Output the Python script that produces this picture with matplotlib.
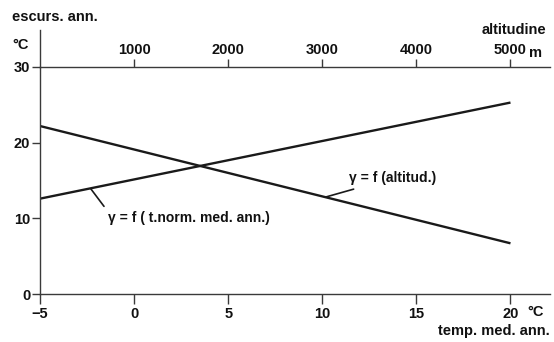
import numpy as np
import matplotlib.pyplot as plt

plt.rcParams['font.family'] = ['Liberation Sans', 'DejaVu Sans']
plt.rcParams['font.weight'] = 'bold'

# dati
temp_med = [-5, 20]              # °C
escurs_temp = [12.6, 25.3]       # y = f(t.norm. med. ann.)
altitudine = [0, 5000]           # m
escurs_alt = [22.2, 6.7]         # y = f(altitud.)

x_ticks = [-5, 0, 5, 10, 15, 20]
y_ticks = [0, 10, 20, 30]
alt_ticks = [1000, 2000, 3000, 4000, 5000]


def alt2temp(a):
    return -5 + np.asarray(a) / 200.0


def temp2alt(t):
    return (np.asarray(t) + 5) * 200.0


col = '#1a1a1a'
axcol = '#3a3a3a'
txt = '#111111'
fs = 10.5

fig = plt.figure(figsize=(5.54, 3.42), dpi=100)
ax = fig.add_axes([40 / 554, 48 / 342, 510 / 554, 227 / 342])

ax.plot(temp_med, escurs_temp, color=col, lw=1.7, solid_capstyle='butt')
ax.plot(alt2temp(altitudine), escurs_alt, color=col, lw=1.7, solid_capstyle='butt')

ax.set_xlim(-5, 22.1)
ax.set_ylim(0, 30)
ax.set_xticks(x_ticks)
ax.set_yticks(y_ticks)
ax.tick_params(axis='both', colors=axcol, labelcolor=txt, labelsize=fs,
               width=1.0, direction='out')
ax.tick_params(axis='y', length=6, pad=1)
ax.tick_params(axis='x', length=7, pad=2)
for s in ['left', 'bottom', 'top']:
    ax.spines[s].set_color(axcol)
    ax.spines[s].set_linewidth(1.0)
ax.spines['right'].set_visible(False)

# asse superiore: altitudine
sec = ax.secondary_xaxis('top', functions=(temp2alt, alt2temp))
sec.set_xticks(alt_ticks)
sec.tick_params(colors=axcol, labelcolor=txt, labelsize=fs, width=1.0,
                length=6, direction='out', pad=1)
sec.spines['top'].set_visible(False)

# prolungamento asse y sopra i 30
ax.plot([0, 0], [1, 1.165], transform=ax.transAxes, color=axcol, lw=1.0,
        clip_on=False)

# testi
fig.text(12 / 554, 1 - 17 / 342, 'escurs. ann.', fontsize=fs, va='center',
         ha='left', color=txt)
fig.text(12 / 554, 1 - 45 / 342, '°C', fontsize=fs, va='center', ha='left',
         color=txt)
fig.text(546 / 554, 1 - 30 / 342, 'altitudine', fontsize=fs, va='center',
         ha='right', color=txt)
fig.text(529 / 554, 1 - 53 / 342, 'm', fontsize=fs, va='center', ha='left',
         color=txt)
fig.text(527 / 554, 1 - 312 / 342, '°C', fontsize=fs, va='center', ha='left',
         color=txt)
fig.text(550 / 554, 1 - 331 / 342, 'temp. med. ann.', fontsize=fs,
         va='center', ha='right', color=txt)

ax.annotate('γ = f (altitud.)', xy=(10.16, 12.8), xytext=(11.4, 15.3),
            fontsize=10, va='center', ha='left', color=txt,
            arrowprops=dict(arrowstyle='-', color=col, lw=1.2,
                            shrinkA=3, shrinkB=0))
ax.annotate('γ = f ( t.norm. med. ann.)', xy=(-2.3, 13.9), xytext=(-1.4, 10.0),
            fontsize=10, va='center', ha='left', color=txt,
            arrowprops=dict(arrowstyle='-', color=col, lw=1.2,
                            shrinkA=2, shrinkB=0, relpos=(0, 1)))

fig.savefig('out.png', dpi=100)
